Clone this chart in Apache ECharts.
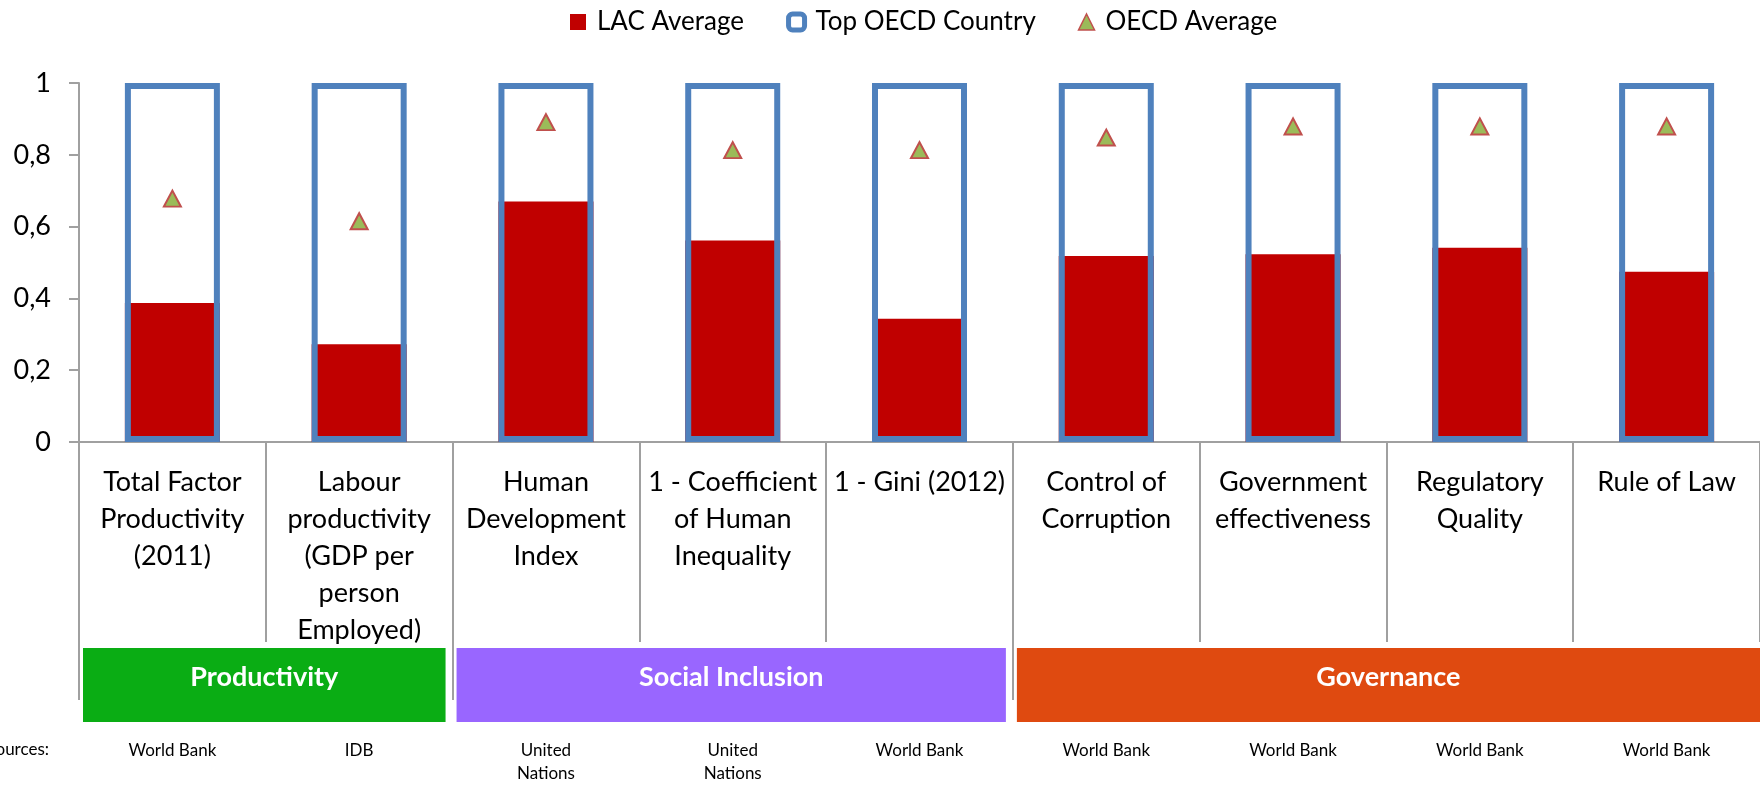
<!DOCTYPE html>
<html>
<head>
<meta charset="utf-8">
<script src="https://cdn.jsdelivr.net/npm/echarts@6/dist/echarts.min.js"></script>
<style>
html,body{margin:0;padding:0;background:#fff;}
#c{width:1760px;height:785px;}
</style>
</head>
<body>
<div id="c"></div>
<script>
const categories = [
  "Total Factor\nProductivity\n(2011)",
  "Labour\nproductivity\n(GDP per\nperson\nEmployed)",
  "Human\nDevelopment\nIndex",
  "1 - Coefficient\nof Human\nInequality",
  "1 - Gini (2012)",
  "Control of\nCorruption",
  "Government\neffectiveness",
  "Regulatory\nQuality",
  "Rule of Law"
];
const lacAverage = [0.387, 0.272, 0.670, 0.561, 0.343, 0.518, 0.523, 0.541, 0.474];
const topOecd = [1, 1, 1, 1, 1, 1, 1, 1, 1];
const oecdAverage = [0.678, 0.615, 0.891, 0.813, 0.813, 0.848, 0.879, 0.879, 0.879];
const sources = ["World Bank", "IDB", "United\nNations", "United\nNations", "World Bank", "World Bank", "World Bank", "World Bank", "World Bank"];
const groups = [
  {name: "Productivity", from: 0, to: 2, color: "#0AAD14"},
  {name: "Social Inclusion", from: 2, to: 5, color: "#9966FF"},
  {name: "Governance", from: 5, to: 9, color: "#DF4A10"}
];
const yTicks = [0, 0.2, 0.4, 0.6, 0.8, 1];

const FONT = "Lato, 'Open Sans', sans-serif";
const chart = echarts.init(document.getElementById('c'), null, {renderer: 'canvas'});

const option = {
  animation: false,
  backgroundColor: '#fff',
  textStyle: {fontFamily: FONT},
  legend: {
    left: 565, top: 4,
    itemWidth: 16, itemHeight: 16, itemGap: 42,
    textStyle: {fontSize: 26, color: '#000', fontFamily: FONT, padding: [0, 0, 0, 6]},
    data: [
      {name: 'LAC Average', icon: 'rect', itemStyle: {color: '#C00000'}},
      {name: 'Top OECD Country', icon: 'roundRect', itemStyle: {color: '#fff', borderColor: '#4F81BD', borderWidth: 5}},
      {name: 'OECD Average', icon: 'triangle', itemStyle: {color: '#9BBB59', borderColor: '#C0504D', borderWidth: 1.5}}
    ]
  },
  grid: {left: 79, top: 83, bottom: 343, right: 0, containLabel: false},
  xAxis: [
    {
      type: 'category', data: categories, position: 'bottom',
      axisLine: {show: true, lineStyle: {color: '#A0A0A0', width: 2}},
      axisTick: {show: true, interval: 0, length: 200, alignWithLabel: false, lineStyle: {color: '#A0A0A0', width: 2}},
      axisLabel: {interval: 0, margin: 22, fontSize: 27, lineHeight: 37, color: '#000', fontFamily: FONT, align: 'center'},
      splitLine: {show: false}
    },
    {
      type: 'category', data: sources, position: 'bottom', offset: 287,
      axisLine: {show: false}, axisTick: {show: false}, splitLine: {show: false},
      axisLabel: {interval: 0, margin: 10, fontSize: 17, lineHeight: 23, color: '#000', fontFamily: FONT}
    }
  ],
  yAxis: {
    type: 'value', min: 0, max: 1, interval: 0.2,
    axisLine: {show: true, lineStyle: {color: '#A0A0A0', width: 2}},
    axisTick: {show: true, length: 10, lineStyle: {color: '#A0A0A0', width: 2}},
    axisLabel: {margin: 28, fontSize: 27, color: '#000', fontFamily: FONT,
      formatter: v => String(Math.round(v * 10) / 10).replace('.', ',')},
    splitLine: {show: false}
  },
  series: [
    {
      name: 'LAC Average', type: 'bar', data: lacAverage, barWidth: 95, barGap: '-100%',
      itemStyle: {color: '#C00000'}, z: 2
    },
    {
      name: 'Top OECD Country', type: 'bar', data: topOecd, barWidth: 95, barGap: '-100%',
      itemStyle: {color: 'rgba(0,0,0,0)', borderColor: '#4F81BD', borderWidth: 6}, z: 3
    },
    {
      name: 'OECD Average', type: 'scatter', data: oecdAverage, symbol: 'triangle', symbolSize: [17, 16],
      itemStyle: {color: '#9BBB59', borderColor: '#C0504D', borderWidth: 2, opacity: 1}, z: 5
    }
  ]
};
chart.setOption(option);

function drawExtras() {
  const c0 = chart.convertToPixel({xAxisIndex: 0}, 0);
  const c1 = chart.convertToPixel({xAxisIndex: 0}, 1);
  const w = c1 - c0;
  const edge = i => c0 - w / 2 + i * w;
  const elements = [];
  [0, 2, 5].forEach(i => {
    const x = Math.round(edge(i));
    elements.push({type: 'line', shape: {x1: x, y1: 442, x2: x, y2: 700}, style: {stroke: '#A0A0A0', lineWidth: 2}, z: 1});
  });
  groups.forEach(g => {
    const x1 = edge(g.from) + 4;
    const x2 = g.to === 9 ? 1760 : edge(g.to) - 7;
    elements.push({type: 'rect', shape: {x: x1, y: 648, width: x2 - x1, height: 74}, style: {fill: g.color}, z: 2});
    elements.push({type: 'text', x: (x1 + x2) / 2, y: 677,
      style: {text: g.name, fill: '#fff', font: 'bold 27px ' + FONT, textAlign: 'center', textVerticalAlign: 'middle'}, z: 3});
  });
  elements.push({type: 'text', x: 49, y: 750,
    style: {text: 'Sources:', fill: '#000', font: '17px ' + FONT, textAlign: 'right', textVerticalAlign: 'middle'}, z: 3});
  chart.setOption({graphic: {elements: elements}});
}
drawExtras();
</script>
</body>
</html>
